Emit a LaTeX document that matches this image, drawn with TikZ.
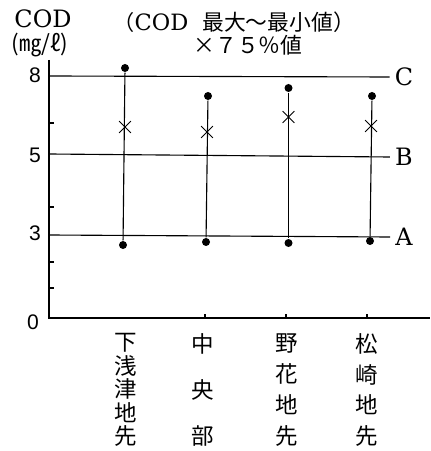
\documentclass[tikz,border=0pt]{standalone}
\usepackage{fontspec}
\setmainfont{DejaVu Serif}
\newfontfamily\jpfont{Noto Sans CJK JP}
\newfontfamily\numfont{Liberation Sans}
\usetikzlibrary{shapes.misc}
\tikzset{
  dot/.style={circle, fill, inner sep=0pt, minimum size=0.2cm},
  xmark/.style={cross out, draw, line width=0.7pt, inner sep=0pt, minimum size=0.27cm},
  lvl/.style={font=\fontsize{17}{19}\selectfont},
  ynum/.style={font=\numfont\fontsize{15}{17}\selectfont},
  site/.style={align=center, inner sep=0pt}
}
\begin{document}
\begin{tikzpicture}[x=0.025cm, y=-0.025cm, line width=0.8pt]
\useasboundingbox (0, 0) rectangle (430, 451);
% axes
\draw (49, 60) -- (49, 318) -- (430, 318);
\draw (49, 288) -- +(5, 0);
\draw (49, 262) -- +(5, 0);
\draw (49, 207) -- +(5, 0);
\draw (49, 123) -- +(5, 0);
\draw (205, 318) -- +(0, -4);
\draw (286, 318) -- +(0, -4);
\draw (367, 318) -- +(0, -4);
% y labels
\node[lvl] (cod) at (43, 19) {COD};
\node[font=\jpfont\fontsize{16}{18}\selectfont] (unit) at (40, 45) {(㎎/ℓ)};
\node[ynum] (y8) at (35, 75) {8};
\node[ynum] (y5) at (35, 155) {5};
\node[ynum] (y3) at (35, 233) {3};
\node[ynum] (y0) at (33, 322) {0};
% title
\node[anchor=west, inner sep=0pt] (ttl) at (113, 22)
  {{\jpfont\fontsize{15}{17}\selectfont （}{\fontsize{16}{18}\selectfont COD}\hspace{0.35cm}{\jpfont\fontsize{15.5}{17}\selectfont 最大〜最小値）}};
\node[anchor=west, inner sep=0pt, font=\jpfont\fontsize{15.5}{17}\selectfont] (ttl2) at (193, 45) {×７５％値};
% levels
\node[lvl] (C) at (404, 77) {C};
\node[lvl] (B) at (404, 157) {B};
\node[lvl] (A) at (404, 237) {A};
\draw (49, 76) -- (C.west);
\draw (49, 154) -- (B.west);
\draw (49, 235) -- (A.west);
% ranges
\node[dot] (t1) at (125, 68) {};
\node[dot] (b1) at (123, 245) {};
\draw (t1) -- (b1);
\node[xmark] (m1) at (125, 127) {};
\node[dot] (t2) at (208, 96) {};
\node[dot] (b2) at (206, 242) {};
\draw (t2) -- (b2);
\node[xmark] (m2) at (207, 132) {};
\node[dot] (t3) at (288.5, 88) {};
\node[dot] (b3) at (288.5, 243) {};
\draw (t3) -- (b3);
\node[xmark] (m3) at (288.5, 117) {};
\node[dot] (t4) at (372, 96) {};
\node[dot] (b4) at (370, 241) {};
\draw (t4) -- (b4);
\node[xmark] (m4) at (371, 126) {};
% sites
\node[site, font=\jpfont\fontsize{16}{16.7}\selectfont] (s1) at (126, 390) {下\\浅\\津\\地\\先};
\node[site, font=\jpfont\fontsize{16}{33}\selectfont] (s2) at (203, 390) {中\\央\\部};
\node[site, font=\jpfont\fontsize{16}{22}\selectfont] (s3) at (287, 390) {野\\花\\地\\先};
\node[site, font=\jpfont\fontsize{16}{22}\selectfont] (s4) at (367, 390) {松\\崎\\地\\先};
\end{tikzpicture}
\end{document}
